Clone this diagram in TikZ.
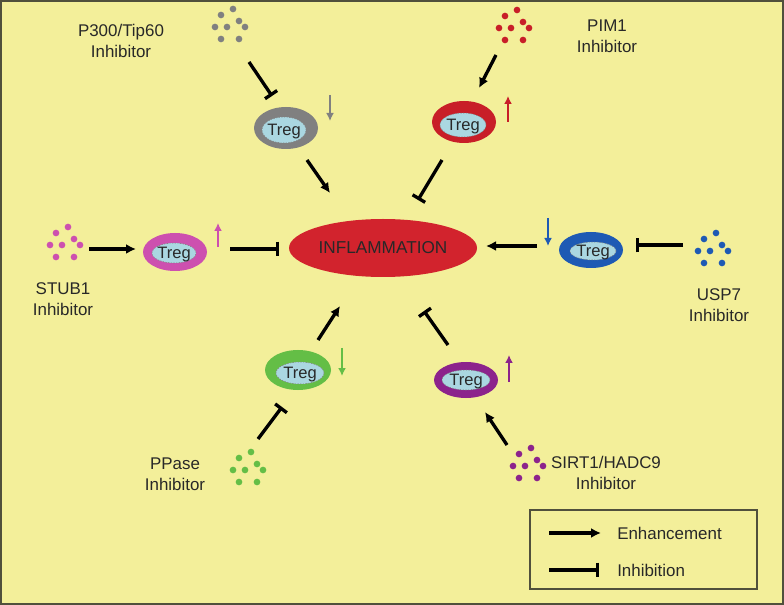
\documentclass[tikz,border=0pt]{standalone}
\usepackage{fontspec}
\setmainfont{Liberation Sans}
\usetikzlibrary{arrows.meta,shapes.geometric}
\definecolor{bg}{RGB}{243,239,154}
\definecolor{cG}{RGB}{128,128,128}
\definecolor{cR}{RGB}{200,30,40}
\definecolor{cM}{RGB}{205,80,175}
\definecolor{cB}{RGB}{30,90,180}
\definecolor{cGr}{RGB}{100,190,70}
\definecolor{cP}{RGB}{140,35,140}
\definecolor{infl}{RGB}{210,35,45}
\definecolor{lblue}{RGB}{170,215,225}
\definecolor{txt}{RGB}{40,40,40}
\definecolor{frame}{RGB}{80,80,60}
\tikzset{
  lbl/.style={font=\fontsize{12.7}{15.5}\selectfont, text=txt, align=center, inner sep=0pt},
  tregout/.style={ellipse, inner sep=0pt},
  tregin/.style={ellipse, inner sep=0pt, fill=lblue, draw=cG, line width=0.4pt, dash pattern=on 1pt off 1pt},
  tregtxt/.style={font=\fontsize{12.4}{14}\selectfont, text=txt, inner sep=0pt, yshift=-1pt},
  enh/.style={line width=2.5pt, -{Latex[length=7.5pt,width=7.5pt]}},
  inh/.style={line width=2.5pt, -{Bar[width=11pt,line width=2.5pt]}},
  small/.style={line width=1.8pt, -{Latex[length=6pt,width=6pt]}},
  dotcl/.pic={\foreach \dx/\dy in {0/0,-12/6,6/12,-18/18,-6/18,12/18,-12/30,6/30} \fill[pic actions] (\dx,\dy) circle[radius=2.5pt];}
}
\begin{document}
\begin{tikzpicture}[x=0.75pt,y=-0.75pt]
\useasboundingbox (0,0) rectangle (784,605);
\fill[bg] (0,0) rectangle (784,605);
\draw[frame, line width=1.3pt] (0.8,0.8) rectangle (783.2,604.2);

% central node
\node[ellipse, fill=infl, minimum width=141pt, minimum height=43.5pt, inner sep=0pt, font=\fontsize{12.9}{14}\selectfont, text=txt] (inf) at (383,248) {INFLAMMATION};

% ---- P300/Tip60 (gray)
\coordinate (dG) at (233,9);
\pic[fill=cG] at (dG) {dotcl};
\node[lbl] (lG) at (121,41) {P300/Tip60\\Inhibitor};
\node[tregout, fill=cG, minimum width=48pt, minimum height=31.5pt] (tG) at (286,128) {};
\node[tregin, minimum width=33pt, minimum height=19.5pt, label={[tregtxt]center:Treg}] (iG) at (284,130) {};
\coordinate (aG1) at (249,62); \coordinate (aG2) at (272,96);
\coordinate (aG3) at (307,160); \coordinate (aG4) at (330,193);
\coordinate (sG1) at (330,95); \coordinate (sG2) at (330,121);
\draw[inh] (aG1) -- (aG2);
\draw[enh] (aG3) -- (aG4);
\draw[small, cG] (sG1) -- (sG2);

% ---- PIM1 (red)
\coordinate (dR) at (517,10);
\pic[fill=cR] at (dR) {dotcl};
\node[lbl] (lR) at (607,36) {PIM1\\Inhibitor};
\node[tregout, fill=cR, minimum width=48pt, minimum height=31.5pt] (tR) at (464,122) {};
\node[tregin, minimum width=34.5pt, minimum height=18pt, label={[tregtxt]center:Treg}] (iR) at (463,125) {};
\coordinate (aR1) at (496,55); \coordinate (aR2) at (479,88);
\coordinate (aR3) at (442,160); \coordinate (aR4) at (418,200);
\coordinate (sR1) at (508,122); \coordinate (sR2) at (508,96);
\draw[enh] (aR1) -- (aR2);
\draw[inh] (aR3) -- (aR4);
\draw[small, cR] (sR1) -- (sR2);

% ---- STUB1 (magenta)
\coordinate (dM) at (68,227);
\pic[fill=cM] at (dM) {dotcl};
\node[lbl] (lM) at (63,299) {STUB1\\Inhibitor};
\node[tregout, fill=cM, minimum width=48pt, minimum height=28.5pt] (tM) at (175,252) {};
\node[tregin, minimum width=33pt, minimum height=15pt, label={[tregtxt]center:Treg}] (iM) at (174,253) {};
\coordinate (aM1) at (89,249); \coordinate (aM2) at (136,249);
\coordinate (aM3) at (230,249); \coordinate (aM4) at (279,249);
\coordinate (sM1) at (218,247); \coordinate (sM2) at (218,223);
\draw[enh] (aM1) -- (aM2);
\draw[inh] (aM3) -- (aM4);
\draw[small, cM] (sM1) -- (sM2);

% ---- USP7 (blue)
\coordinate (dB) at (716,233);
\pic[fill=cB] at (dB) {dotcl};
\node[lbl] (lB) at (719,305) {USP7\\Inhibitor};
\node[tregout, fill=cB, minimum width=48pt, minimum height=27pt] (tB) at (591,250) {};
\node[tregin, minimum width=34.5pt, minimum height=13.5pt, label={[tregtxt]center:Treg}] (iB) at (593,251) {};
\coordinate (aB1) at (683,245); \coordinate (aB2) at (636,245);
\coordinate (aB3) at (537,246); \coordinate (aB4) at (486,246);
\coordinate (sB1) at (548,218); \coordinate (sB2) at (548,246);
\draw[inh] (aB1) -- (aB2);
\draw[enh] (aB3) -- (aB4);
\draw[small, cB] (sB1) -- (sB2);

% ---- PPase (green)
\coordinate (dGr) at (251,452);
\pic[fill=cGr] at (dGr) {dotcl};
\node[lbl] (lGr) at (175,474) {PPase\\Inhibitor};
\node[tregout, fill=cGr, minimum width=49.5pt, minimum height=30pt] (tGr) at (298,370) {};
\node[tregin, minimum width=36pt, minimum height=16.5pt, label={[tregtxt]center:Treg}] (iGr) at (300,373) {};
\coordinate (aGr1) at (258,439); \coordinate (aGr2) at (282,407);
\coordinate (aGr3) at (318,340); \coordinate (aGr4) at (340,306);
\coordinate (sGr1) at (342,348); \coordinate (sGr2) at (342,376);
\draw[inh] (aGr1) -- (aGr2);
\draw[enh] (aGr3) -- (aGr4);
\draw[small, cGr] (sGr1) -- (sGr2);

% ---- SIRT1/HADC9 (purple)
\coordinate (dP) at (531,448);
\pic[fill=cP] at (dP) {dotcl};
\node[lbl] (lP) at (606,473) {SIRT1/HADC9\\Inhibitor};
\node[tregout, fill=cP, minimum width=48pt, minimum height=27pt] (tP) at (466,380) {};
\node[tregin, minimum width=36pt, minimum height=15pt, label={[tregtxt]center:Treg}] (iP) at (466,380) {};
\coordinate (aP1) at (507,445); \coordinate (aP2) at (485,412);
\coordinate (aP3) at (448,345); \coordinate (aP4) at (424,311);
\coordinate (sP1) at (509,382); \coordinate (sP2) at (509,355);
\draw[enh] (aP1) -- (aP2);
\draw[inh] (aP3) -- (aP4);
\draw[small, cP] (sP1) -- (sP2);

% ---- legend
\node[draw=frame, line width=1.2pt, minimum width=170.25pt, minimum height=59.25pt, inner sep=0pt] (leg) at (643.5,549.5) {};
\coordinate (le1) at (549,533); \coordinate (le2) at (601,533);
\coordinate (li1) at (549,570); \coordinate (li2) at (599,570);
\draw[enh] (le1) -- (le2);
\draw[inh] (li1) -- (li2);
\node[lbl, anchor=west] (leT) at (617,533) {Enhancement};
\node[lbl, anchor=west] (liT) at (617,570) {Inhibition};
\end{tikzpicture}
\end{document}
